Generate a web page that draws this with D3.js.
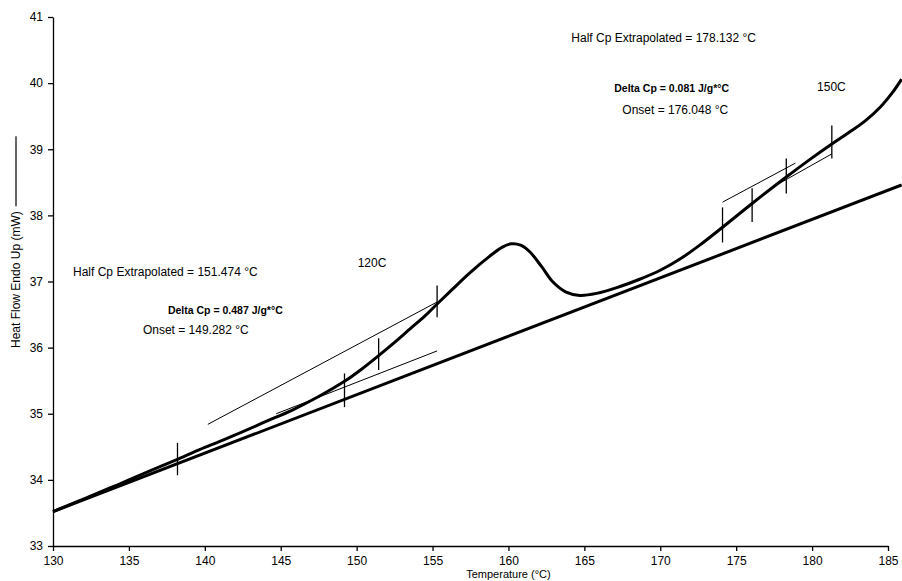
<!DOCTYPE html>
<html>
<head>
<meta charset="utf-8">
<script src="https://cdn.jsdelivr.net/npm/d3@7"></script>
<style>
  body { margin: 0; background: #fff; }
  text { font-family: "Liberation Sans", Arial, sans-serif; fill: #000; }
  .axisBlack path, .axisBlack line { stroke: #000; stroke-width: 1.3px; }
  .axisBlack text { font-size: 12px; }
</style>
</head>
<body>
<div id="dsc"></div>
<script>
// heat flow curve (Temperature °C, mW)
const temps = [130, 132, 134, 136, 138.2, 140, 142, 144, 145.8, 147.5, 149.2, 150.3, 151.45, 152.5, 153.5,
  154.5, 155.3, 156.3, 157.4, 158.75, 159.6, 160.2, 160.8, 161.4, 162.2, 162.9, 163.8, 164.7, 165.8, 167.3,
  168.6, 170, 171.3, 172.6, 174.1, 176.05, 178.3, 180, 181.3, 182.4, 183.5, 184.5, 185.3, 185.9];
const heatFlow = [33.52, 33.71, 33.9, 34.1, 34.31, 34.49, 34.68, 34.88, 35.06, 35.26, 35.49, 35.67, 35.88, 36.08, 36.28,
  36.48, 36.66, 36.88, 37.12, 37.38, 37.52, 37.57, 37.55, 37.45, 37.22, 37.0, 36.84, 36.79, 36.82, 36.92,
  37.03, 37.17, 37.34, 37.55, 37.82, 38.18, 38.58, 38.87, 39.08, 39.25, 39.43, 39.64, 39.86, 40.06];

// straight baseline
const baseTemps = [130, 185.9];
const baseFlow = [33.52, 38.46];

// thin tangent lines [t1, v1, t2, v2]
const tangents = [
  [140.2, 34.84, 155.3, 36.69],
  [144.7, 35.0, 155.3, 35.95],
  [174.1, 38.2, 178.9, 38.79],
  [177.2, 38.4, 181.3, 38.93]
];

// vertical markers [temp, low, high]
const markers = [
  [138.2, 34.07, 34.56],
  [149.2, 35.10, 35.61],
  [151.45, 35.66, 36.14],
  [155.3, 36.46, 36.94],
  [174.1, 37.59, 38.12],
  [176.05, 37.9, 38.41],
  [178.3, 38.33, 38.86],
  [181.3, 38.86, 39.36]
];

// annotations [temp, value, label]
const notes = [
  [164.14, 40.62, "Half Cp Extrapolated = 178.132 °C"],
  [166.97, 39.86, "Delta Cp = 0.081 J/g*°C"],
  [167.5, 39.53, "Onset = 176.048 °C"],
  [180.33, 39.88, "150C"],
  [131.32, 37.08, "Half Cp Extrapolated = 151.474 °C"],
  [137.57, 36.51, "Delta Cp = 0.487 J/g*°C"],
  [135.92, 36.2, "Onset = 149.282 °C"],
  [150.07, 37.22, "120C"]
];

const xTicks = [130, 135, 140, 145, 150, 155, 160, 165, 170, 175, 180, 185];
const yTicks = [33, 34, 35, 36, 37, 38, 39, 40, 41];

const margin = {top: 17, right: 14, bottom: 35, left: 53},
  width = 902 - margin.left - margin.right,
  height = 581 - margin.top - margin.bottom;

const root = d3.select("#dsc")
  .append("svg")
    .attr("width", 902)
    .attr("height", 581);

const svg = root.append("g")
    .attr("transform", "translate(" + margin.left + "," + margin.top + ")");

const x = d3.scaleLinear()
  .domain([130, 185])
  .range([0, width]);

const y = d3.scaleLinear()
  .domain([33, 41])
  .range([height, 0]);

// axes
svg.append("g")
  .attr("class", "axisBlack")
  .attr("transform", `translate(0, ${height})`)
  .call(d3.axisBottom(x).tickValues(xTicks).tickSize(5).tickSizeOuter(0).tickPadding(5));

svg.append("g")
  .attr("class", "axisBlack")
  .call(d3.axisLeft(y).tickValues(yTicks).tickSize(5).tickSizeOuter(0).tickPadding(5));

// axis titles
svg.append("text")
  .attr("x", x(160))
  .attr("y", height + 32)
  .attr("text-anchor", "middle")
  .style("font-size", "11px")
  .text("Temperature (°C)");

const yTitle = root.append("text")
  .attr("transform", "translate(20, 348) rotate(-90)")
  .style("font-size", "12px")
  .text("Heat Flow Endo Up (mW)");
const yLen = yTitle.node().getComputedTextLength();
root.append("line")
  .attr("x1", 16).attr("x2", 16)
  .attr("y1", 348 - yLen - 5).attr("y2", 348 - yLen - 75)
  .attr("stroke", "#000").attr("stroke-width", 1.2);

// baseline
const baseLine = d3.line()
  .x(d => x(d[0]))
  .y(d => y(d[1]));

svg.append("path")
  .datum(baseTemps.map((t, i) => [t, baseFlow[i]]))
  .attr("d", baseLine)
  .attr("fill", "none")
  .attr("stroke", "#000")
  .attr("stroke-width", 3);

// heat flow curve
const flowLine = d3.line()
  .x(d => x(d[0]))
  .y(d => y(d[1]))
  .curve(d3.curveCatmullRom.alpha(0.5));

svg.append("path")
  .datum(temps.map((t, i) => [t, heatFlow[i]]))
  .attr("d", flowLine)
  .attr("fill", "none")
  .attr("stroke", "#000")
  .attr("stroke-width", 3);

// tangents
svg.append("g")
  .selectAll("line")
  .data(tangents)
  .join("line")
    .attr("x1", d => x(d[0]))
    .attr("y1", d => y(d[1]))
    .attr("x2", d => x(d[2]))
    .attr("y2", d => y(d[3]))
    .attr("stroke", "#000")
    .attr("stroke-width", 1);

// markers
svg.append("g")
  .selectAll("line")
  .data(markers)
  .join("line")
    .attr("x1", d => x(d[0]))
    .attr("x2", d => x(d[0]))
    .attr("y1", d => y(d[1]))
    .attr("y2", d => y(d[2]))
    .attr("stroke", "#000")
    .attr("stroke-width", 1.3);

// annotations
svg.append("g")
  .selectAll("text")
  .data(notes)
  .join("text")
    .attr("x", d => x(d[0]))
    .attr("y", d => y(d[1]))
    .style("font-size", d => d[2].startsWith("Delta") ? "10.5px" : "12px")
    .style("font-weight", d => d[2].startsWith("Delta") ? "bold" : "normal")
    .text(d => d[2]);
</script>
</body>
</html>
